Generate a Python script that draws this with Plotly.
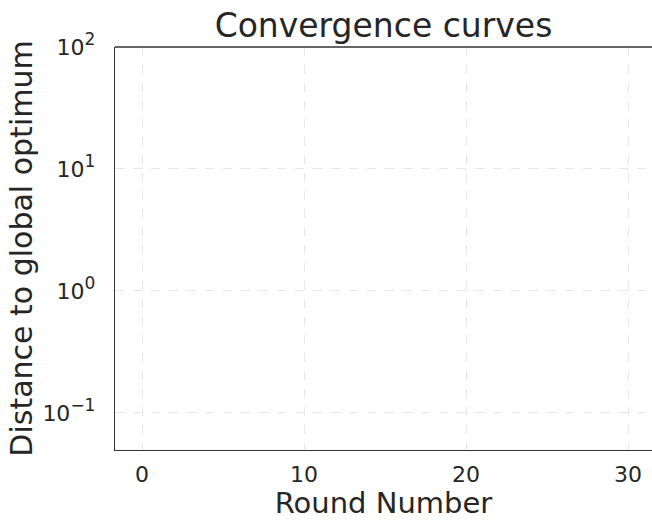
import plotly.graph_objects as go

# Chart data (the reference shows empty axes)
rounds = []
distances = []
x_ticks = [0, 10, 20, 30]
y_tick_vals = [0.1, 1, 10, 100]
y_tick_exps = ["−1", "0", "1", "2"]

FONT = "DejaVu Sans"
INK = "#262626"
y_tick_text = ["10<sup><span style='font-size:17px'>%s</span></sup>" % e for e in y_tick_exps]

fig = go.Figure()
fig.add_trace(go.Scatter(x=rounds, y=distances, mode="lines", showlegend=False))

fig.update_layout(
    width=652, height=520,
    margin=dict(l=115, r=0, t=47, b=70),
    paper_bgcolor="white", plot_bgcolor="white",
    font=dict(family=FONT, color=INK),
    title=dict(text="Convergence curves", x=0.5, xref="paper", xanchor="center",
               y=0.952, yref="container", yanchor="middle",
               font=dict(size=33, family=FONT, color=INK)),
    showlegend=False,
)
fig.update_xaxes(
    range=[-1.67, 31.48], tickvals=x_ticks, tickfont=dict(size=22, color=INK),
    title=dict(text="Round Number", font=dict(size=29, color=INK), standoff=8),
    showline=True, linecolor="#333333", linewidth=1.3,
    showgrid=True, gridcolor="#e6e6e6", griddash="dash", gridwidth=1,
    zeroline=False, ticks="outside", ticklen=4, tickcolor="rgba(0,0,0,0)",
)
fig.update_yaxes(
    type="log", range=[-1.304, 2.0], tickvals=y_tick_vals, ticktext=y_tick_text,
    tickfont=dict(size=22, color=INK),
    title=dict(text="Distance to global optimum", font=dict(size=30, color=INK), standoff=0),
    showline=True, linecolor="#333333", linewidth=1.3,
    showgrid=True, gridcolor="#e6e6e6", griddash="dash", gridwidth=1,
    zeroline=False, ticks="outside", ticklen=14, tickcolor="rgba(0,0,0,0)",
)
fig.add_shape(type="line", xref="paper", yref="paper", x0=0, x1=1, y0=1, y1=1,
              line=dict(color="#333333", width=1.3))

# remove the page's default 8px body margin so the figure fills the window
fig.write_html("out.html", config={"displayModeBar": False},
               post_script="document.body.style.margin='0';document.body.style.overflow='hidden';")
